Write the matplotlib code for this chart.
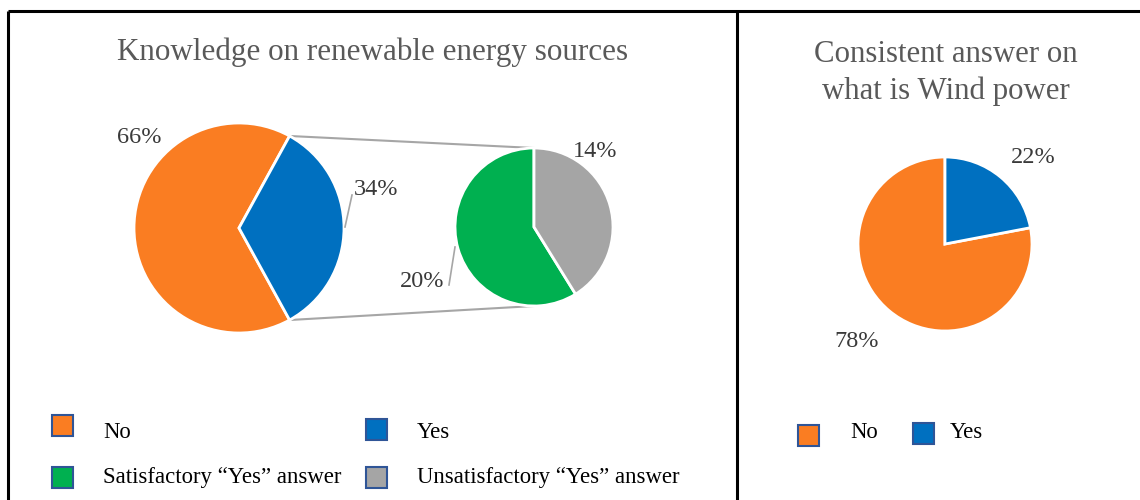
import numpy as np
import matplotlib
matplotlib.use("Agg")
import matplotlib.pyplot as plt
from matplotlib.patches import Rectangle

# survey answers (percent of respondents)
knowledge_labels = ["No", "Yes"]
knowledge_values = [66, 34]
yes_labels = ["Satisfactory \u201cYes\u201d answer", "Unsatisfactory \u201cYes\u201d answer"]
yes_values = [20, 14]
wind_labels = ["No", "Yes"]
wind_values = [78, 22]

ORANGE = "#FA7D22"
BLUE = "#0070C0"
GREEN = "#00B050"
GRAY = "#A5A5A5"
EDGE = "#2F5597"
LABEL_COLOR = "#3A3A3A"
TITLE_COLOR = "#595959"

W, H = 1140, 500
plt.rcParams["font.family"] = ["Liberation Serif", "DejaVu Serif"]

fig = plt.figure(figsize=(W / 100, H / 100), dpi=100)
ax = fig.add_axes([0, 0, 1, 1])


def Y(y):
    # positions are laid out from the top edge
    return H - y


wedge_kw = dict(edgecolor="white", linewidth=2)

# main pie, "Yes" slice centred on the right
main_center = (239, Y(228))
main_r = 105
start = 180 * knowledge_values[1] / sum(knowledge_values)
main_wedges, _ = ax.pie(knowledge_values, colors=[ORANGE, BLUE], startangle=start,
                        center=main_center, radius=main_r, wedgeprops=wedge_kw, frame=True)

# breakdown of the "Yes" answers
sub_center = (534, Y(227))
sub_r = 79
ax.pie(yes_values, colors=[GREEN, GRAY], startangle=90,
       center=sub_center, radius=sub_r, wedgeprops=wedge_kw, frame=True)

# connector lines from the "Yes" slice to the breakdown pie
yes_wedge = main_wedges[1]
for theta, dy in ((yes_wedge.theta2, sub_r), (yes_wedge.theta1, -sub_r)):
    t = np.deg2rad(theta)
    x0 = main_center[0] + main_r * np.cos(t)
    y0 = main_center[1] + main_r * np.sin(t)
    ax.plot([x0, sub_center[0]], [y0, sub_center[1] + dy], color="#A6A6A6", lw=1.5, zorder=0)

# wind power pie
wind_center = (945, Y(244))
ax.pie(wind_values, colors=[ORANGE, BLUE], startangle=90,
       center=wind_center, radius=87, wedgeprops=wedge_kw, frame=True)

# percentage labels
lab_kw = dict(fontsize=17.5, color=LABEL_COLOR, ha="center", va="baseline")
ax.text(139, Y(143), f"{knowledge_values[0]}%", **lab_kw)
ax.text(376, Y(195), f"{knowledge_values[1]}%", **lab_kw)
ax.text(595, Y(157), f"{yes_values[1]}%", **lab_kw)
ax.text(422, Y(287), f"{yes_values[0]}%", **lab_kw)
ax.text(1033, Y(163), f"{wind_values[1]}%", **lab_kw)
ax.text(857, Y(347), f"{wind_values[0]}%", **lab_kw)

# leader lines
ax.plot([345, 352], [Y(227), Y(195)], color="#A6A6A6", lw=1.2)
ax.plot([449, 455], [Y(285), Y(247)], color="#A6A6A6", lw=1.2)

# titles
ax.text(373, Y(60), "Knowledge on renewable energy sources", fontsize=22.4,
        color=TITLE_COLOR, ha="center", va="baseline")
ax.text(946, Y(62), "Consistent answer on", fontsize=22.2,
        color=TITLE_COLOR, ha="center", va="baseline")
ax.text(946, Y(99), "what is Wind power", fontsize=22.2,
        color=TITLE_COLOR, ha="center", va="baseline")

# legends
leg_kw = dict(fontsize=16.4, color="black", ha="left", va="baseline")
legend_entries = [
    (52, 415, ORANGE, knowledge_labels[0], 103, 438),
    (366, 419, BLUE, knowledge_labels[1], 417, 438),
    (52, 467, GREEN, yes_labels[0], 103, 483),
    (366, 467, GRAY, yes_labels[1], 417, 483),
    (798, 425, ORANGE, wind_labels[0], 850, 438),
    (913, 423, BLUE, wind_labels[1], 950, 438),
]
for sx, sy, color, text, tx, ty in legend_entries:
    ax.add_patch(Rectangle((sx, Y(sy + 21)), 21, 21, facecolor=color,
                           edgecolor=EDGE, linewidth=1.5))
    ax.text(tx, Y(ty), text, **leg_kw)

# panel frame
frame_kw = dict(color="black", lw=2.2, solid_capstyle="butt")
ax.plot([8, W], [Y(11), Y(11)], **frame_kw)
ax.plot([8, 8], [Y(11), 0], **frame_kw)
ax.plot([736.5, 736.5], [Y(11), 0], **frame_kw)

ax.set_xlim(0, W)
ax.set_ylim(0, H)
ax.set_aspect("auto")
ax.axis("off")

fig.savefig("out.png", dpi=100)
